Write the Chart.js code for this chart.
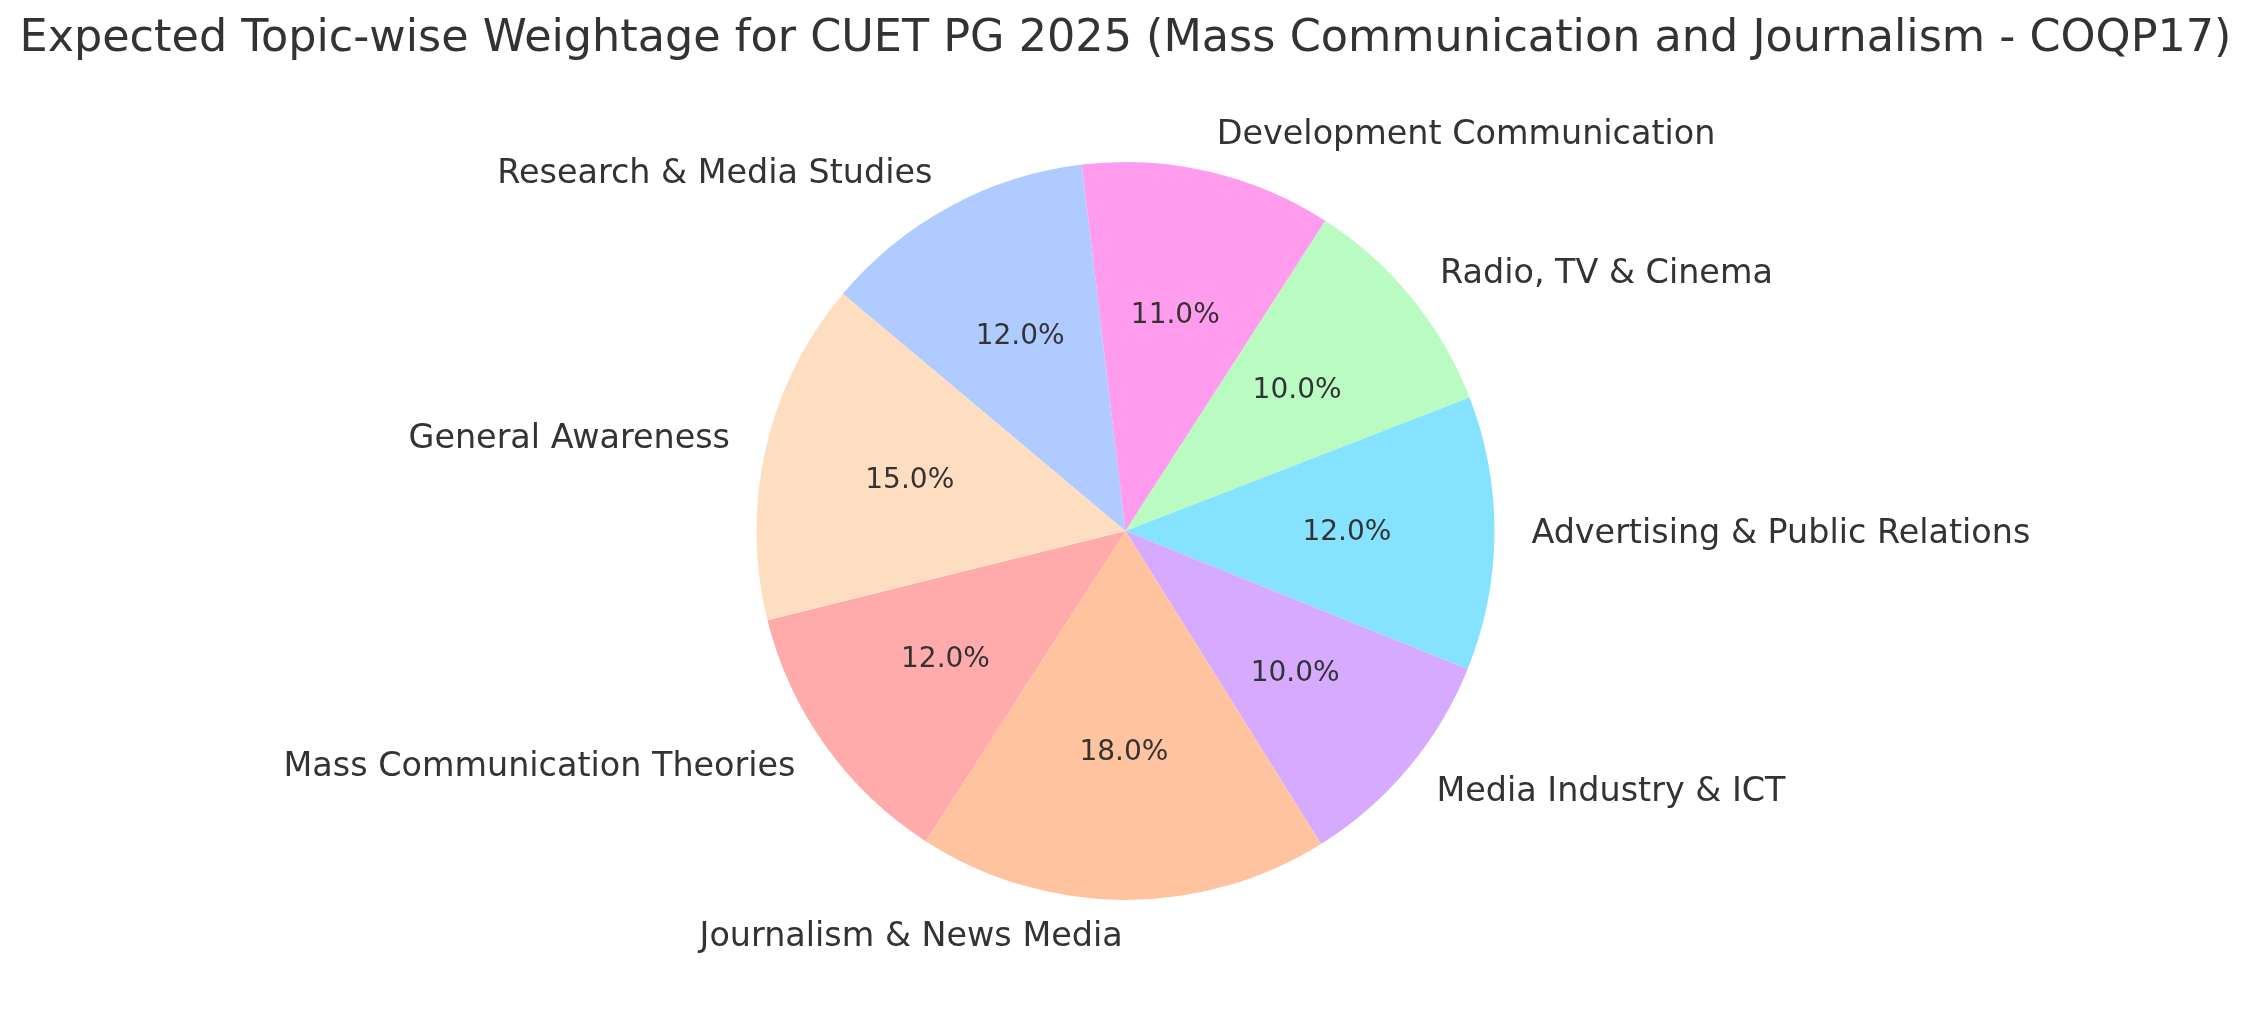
<!DOCTYPE html>
<html>
<head>
<meta charset="utf-8">
<script src="https://cdn.jsdelivr.net/npm/chart.js@4"></script>
<style>
  html, body { margin: 0; padding: 0; background: #fff; }
  #wrap { width: 2251px; height: 1014px; }
</style>
</head>
<body>
<div id="wrap"><canvas id="pieChart"></canvas></div>
<script>
// Data (clockwise order, starting from the Research slice)
const chartTitle = 'Expected Topic-wise Weightage for CUET PG 2025 (Mass Communication and Journalism - COQP17)';
const topics = [
    'Research & Media Studies', 'Development Communication', 'Radio, TV & Cinema',
    'Advertising & Public Relations', 'Media Industry & ICT', 'Journalism & News Media',
    'Mass Communication Theories', 'General Awareness'
];
const weights = [12, 11, 10, 12, 10, 18, 12, 15];
const sliceColors = ['#AFCBFF', '#FF9CEE', '#B9FBC0', '#85E3FF', '#D5AAFF', '#FFC3A0', '#FFABAB', '#FFDDC1'];

const textColor = '#333333';
const fontFamily = '"DejaVu Sans", sans-serif';

// Draws title, outside labels and percentages like matplotlib
const pieText = {
    id: 'pieText',
    afterDraw(chart) {
        const ctx = chart.ctx;
        const meta = chart.getDatasetMeta(0);
        const total = weights.reduce((a, b) => a + b, 0);
        ctx.save();
        ctx.fillStyle = textColor;
        ctx.textAlign = 'center';
        ctx.textBaseline = 'middle';
        ctx.font = '44.5px ' + fontFamily;
        ctx.fillText(chartTitle, chart.width / 2, 39);

        meta.data.forEach((arc, i) => {
            const mid = (arc.startAngle + arc.endAngle) / 2;
            const r = arc.outerRadius;
            const cx = arc.x, cy = arc.y;
            // percentage inside
            ctx.font = '28px ' + fontFamily;
            ctx.textAlign = 'center';
            ctx.fillText((weights[i] / total * 100).toFixed(1) + '%',
                cx + Math.cos(mid) * r * 0.6, cy + Math.sin(mid) * r * 0.6);
            // label outside
            const lx = cx + Math.cos(mid) * r * 1.1;
            const ly = cy + Math.sin(mid) * r * 1.1;
            ctx.font = '33.4px ' + fontFamily;
            ctx.textAlign = Math.cos(mid) >= 0 ? 'left' : 'right';
            ctx.fillText(topics[i], lx, ly);
        });
        ctx.restore();
    }
};

new Chart(document.getElementById('pieChart'), {
    type: 'pie',
    data: {
        labels: topics,
        datasets: [{
            data: weights,
            backgroundColor: sliceColors,
            borderWidth: 0
        }]
    },
    options: {
        responsive: true,
        maintainAspectRatio: false,
        animation: false,
        rotation: -50,
        layout: { padding: { top: 162, bottom: 114 } },
        plugins: {
            legend: { display: false },
            tooltip: { enabled: false }
        }
    },
    plugins: [pieText]
});
</script>
</body>
</html>
